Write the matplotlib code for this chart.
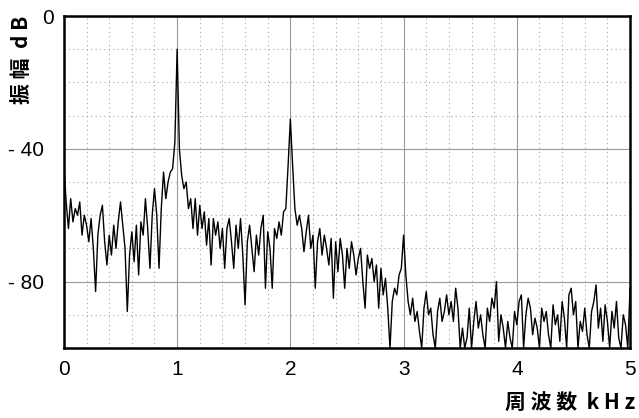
import numpy as np
import matplotlib
matplotlib.use("Agg")
from matplotlib import pyplot as plt
from matplotlib.transforms import ScaledTranslation

plt.rcParams["font.family"] = ["Liberation Sans", "Noto Sans CJK JP", "DejaVu Sans"]

# spectrum sampled every 20 Hz, 0 .. 5 kHz (one row per 0.2 kHz)
freq_khz = np.arange(251) * 0.02
level_db = [
    -45, -56, -64, -55, -62, -58, -60, -56, -66, -60,
    -63, -68, -61, -70, -83, -66, -60, -57, -68, -75,
    -66, -72, -63, -70, -62, -56, -63, -70, -89, -72,
    -65, -74, -63, -78, -62, -66, -55, -64, -76, -60,
    -52, -60, -76, -58, -47, -55, -50, -47, -46, -38,
    -10, -40, -48, -52, -50, -58, -55, -64, -55, -66,
    -57, -64, -59, -69, -61, -75, -61, -66, -62, -70,
    -64, -76, -64, -61, -68, -76, -63, -70, -61, -72,
    -87, -68, -63, -70, -77, -66, -72, -64, -60, -82,
    -65, -70, -82, -64, -67, -62, -66, -59, -58, -45,
    -31, -45, -58, -63, -60, -64, -71, -65, -60, -70,
    -66, -82, -68, -64, -72, -66, -70, -75, -67, -85,
    -68, -77, -67, -72, -82, -70, -76, -68, -72, -78,
    -73, -70, -80, -88, -72, -76, -73, -80, -75, -88,
    -76, -84, -79, -88, -100, -86, -82, -84, -78, -76,
    -66, -78, -86, -90, -85, -92, -89, -95, -100, -88,
    -83, -90, -88, -96, -100, -89, -85, -92, -89, -84,
    -90, -86, -92, -82, -88, -100, -94, -100, -97, -88,
    -100, -92, -86, -94, -90, -96, -100, -88, -92, -85,
    -88, -80, -98, -90, -94, -100, -92, -97, -100, -89,
    -93, -86, -84, -100, -90, -85, -88, -96, -91, -94,
    -100, -88, -92, -89, -96, -100, -87, -93, -90, -98,
    -86, -91, -100, -84, -82, -90, -86, -100, -92, -95,
    -88, -96, -100, -89, -86, -81, -94, -88, -98, -87,
    -92, -100, -89, -94, -86, -97, -100, -90, -93, -100,
    -82,
]

x_ticks = [0, 1, 2, 3, 4, 5]
y_ticks = [0, -40, -80]
y_tick_labels = ["0", "- 40", "- 80"]

fig = plt.figure(figsize=(6.39, 4.18), dpi=100)
ax = fig.add_axes([0.100, 0.1675, 0.886, 0.794])

ax.plot(freq_khz, level_db, color="black", lw=1.0)

ax.set_xlim(0, 5)
ax.set_ylim(-100, 0)
ax.set_xticks(x_ticks)
ax.set_xticks(np.arange(0, 5.01, 0.2), minor=True)
ax.set_yticks(y_ticks)
ax.set_yticks(np.arange(-100, 1, 10), minor=True)
ax.set_yticklabels(y_tick_labels)

ax.grid(which="major", color="#9a9a9a", lw=0.8, ls="-")
ax.grid(which="minor", color="#a8a8a8", lw=0.8, ls=(0, (1, 3)))
ax.set_axisbelow(True)

ax.tick_params(which="both", length=0)
ax.tick_params(axis="x", pad=9, labelsize=15)
ax.tick_params(axis="y", pad=14, labelsize=15)

# the top "0" sits a little closer to the frame
lbl0 = ax.get_yticklabels()[0]
lbl0.set_transform(lbl0.get_transform() + ScaledTranslation(0.09, 0.0, fig.dpi_scale_trans))

for s in ax.spines.values():
    s.set_linewidth(1.8)
    s.set_color("black")

fig.text(0.033, 0.962, "振 幅  d B", rotation=90, ha="center", va="top",
         fontsize=15, fontweight="bold", family=["Noto Sans CJK JP", "DejaVu Sans"])
fig.text(0.994, 0.035, "周 波 数  k H z", ha="right", va="center",
         fontsize=15, fontweight="bold", family=["Noto Sans CJK JP", "DejaVu Sans"])

fig.savefig("out.png", dpi=100)
